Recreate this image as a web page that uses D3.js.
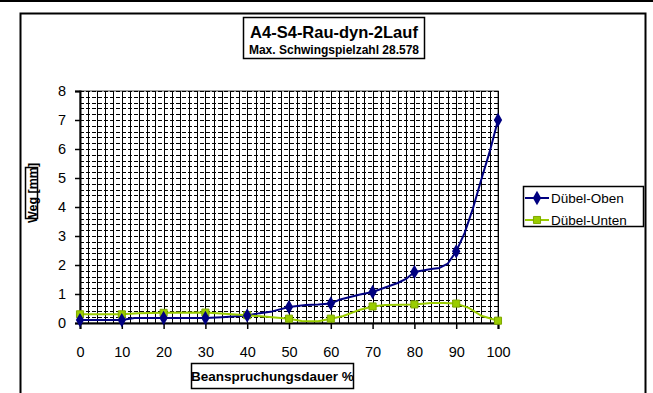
<!DOCTYPE html>
<html>
<head>
<meta charset="utf-8">
<script src="https://cdn.jsdelivr.net/npm/d3@7"></script>
<style>
  html, body { margin: 0; padding: 0; background: #fff; }
  svg { display: block; font-family: "Liberation Sans", Arial, sans-serif; }
</style>
</head>
<body>
<svg id="chart" width="653" height="393"></svg>
<script>
// ---- data ----
const title = "A4-S4-Rau-dyn-2Lauf";
const subtitle = "Max. Schwingspielzahl 28.578";
const xLabel = "Beanspruchungsdauer %";
const yLabel = "Weg [mm]";
const seriesNames = ["Dübel-Oben", "Dübel-Unten"];
const xTicks = [0, 10, 20, 30, 40, 50, 60, 70, 80, 90, 100];
const yTicks = [0, 1, 2, 3, 4, 5, 6, 7, 8];

// Dübel-Oben (curve points; markers at every 10 %)
const obenX = [0, 10, 13, 20, 30, 34, 40, 43, 46, 50, 54, 57, 60, 62, 67, 70, 76, 78, 80, 84, 86, 88, 90, 92, 94, 96, 98, 100];
const obenY = [0.1, 0.1, 0.17, 0.17, 0.17, 0.2, 0.26, 0.34, 0.4, 0.55, 0.62, 0.64, 0.67, 0.8, 0.98, 1.07, 1.38, 1.52, 1.76, 1.86, 1.9, 2.05, 2.47, 3.1, 3.95, 4.95, 5.9, 7.0];
// Dübel-Unten
const untenX = [0, 10, 14, 20, 30, 40, 44, 50, 53, 57, 60, 63, 67, 70, 73, 80, 84, 87, 90, 93, 96, 100];
const untenY = [0.3, 0.3, 0.34, 0.35, 0.36, 0.27, 0.22, 0.15, 0.07, 0.06, 0.15, 0.24, 0.46, 0.57, 0.62, 0.64, 0.69, 0.69, 0.67, 0.52, 0.25, 0.08];

const colors = ["#000080", "#99cc00"];

// ---- layout ----
const svg = d3.select("#chart");
const plot = { left: 80, right: 498, top: 91, bottom: 323 };

const x = d3.scaleLinear().domain([0, 100]).range([plot.left, plot.right]);
const y = d3.scaleLinear().domain([0, 8]).range([plot.bottom, plot.top]);

// top edge line & outer frame
svg.append("rect").attr("x", 0).attr("y", 0).attr("width", 653).attr("height", 2).attr("fill", "#000");
svg.append("rect").attr("x", 20.5).attr("y", 13.5).attr("width", 625).attr("height", 400)
  .attr("fill", "none").attr("stroke", "#000").attr("stroke-width", 2);

// title box
const tb = svg.append("g");
tb.append("rect").attr("x", 243.5).attr("y", 17.5).attr("width", 181).attr("height", 41)
  .attr("fill", "#fff").attr("stroke", "#000").attr("stroke-width", 1.5);
tb.append("text").attr("x", 334).attr("y", 38).attr("text-anchor", "middle")
  .attr("font-size", 16.5).attr("font-weight", "bold").text(title);
tb.append("text").attr("x", 334).attr("y", 54).attr("text-anchor", "middle")
  .attr("font-size", 12).attr("font-weight", "bold").text(subtitle);

// plot area
svg.append("rect").attr("x", plot.left).attr("y", plot.top)
  .attr("width", plot.right - plot.left).attr("height", plot.bottom - plot.top)
  .attr("fill", "#fff").attr("stroke", "#808080").attr("stroke-width", 1.5);

// grid
const gx = d3.range(0, 101, 2);
const gy = d3.range(0, 8.0001, 0.2);
svg.append("g").selectAll("line").data(gy).join("line")
  .attr("x1", plot.left).attr("x2", plot.right)
  .attr("y1", d => Math.round(y(d)) + 0.5).attr("y2", d => Math.round(y(d)) + 0.5)
  .attr("stroke", "#000").attr("stroke-width", 1).attr("stroke-dasharray", "4,2");
svg.append("g").selectAll("line").data(gx).join("line")
  .attr("x1", d => Math.round(x(d)) + 0.5).attr("x2", d => Math.round(x(d)) + 0.5)
  .attr("y1", plot.top).attr("y2", plot.bottom)
  .attr("stroke", "#000").attr("stroke-width", 1);

// axes
const xAxis = d3.axisBottom(x).tickValues(xTicks).tickSize(6).tickPadding(18).tickFormat(d3.format("d"));
const yAxis = d3.axisLeft(y).tickValues(yTicks).tickSize(5).tickPadding(9).tickFormat(d3.format("d"));
const gxa = svg.append("g").attr("transform", `translate(0,${plot.bottom})`).call(xAxis);
const gya = svg.append("g").attr("transform", `translate(${plot.left},0)`).call(yAxis);
[gxa, gya].forEach(g => {
  g.select(".domain").attr("stroke", "#000").attr("stroke-width", 2);
  g.selectAll(".tick line").attr("stroke", "#000").attr("stroke-width", 1.5);
  g.selectAll(".tick text").attr("fill", "#000").attr("font-size", 14.5)
    .attr("font-family", "Liberation Sans, Arial, sans-serif");
});

// series
const seriesData = [
  obenX.map((v, i) => ({ x: v, y: obenY[i] })),
  untenX.map((v, i) => ({ x: v, y: untenY[i] }))
];
const line = d3.line().x(d => x(d.x)).y(d => y(d.y));
seriesData.forEach((data, si) => {
  svg.append("path").datum(data).attr("d", line)
    .attr("fill", "none").attr("stroke", colors[si]).attr("stroke-width", 2)
    .attr("stroke-linejoin", "round");
});
const square = d3.symbol().type(d3.symbolSquare).size(50);
const diamond = d3.symbol().type(d3.symbolDiamond).size(60);
// markers (every 10 %)
svg.append("g").selectAll("path").data(seriesData[1].filter(d => d.x % 10 === 0)).join("path")
  .attr("transform", d => `translate(${x(d.x)},${y(d.y)})`)
  .attr("d", square).attr("fill", colors[1]).attr("stroke", "#7fa800").attr("stroke-width", 1);
svg.append("g").selectAll("path").data(seriesData[0].filter(d => d.x % 10 === 0)).join("path")
  .attr("transform", d => `translate(${x(d.x)},${y(d.y)})`)
  .attr("d", diamond).attr("fill", colors[0]);

// legend
const lg = svg.append("g");
lg.append("rect").attr("x", 523.5).attr("y", 186.5).attr("width", 120).attr("height", 40)
  .attr("fill", "#fff").attr("stroke", "#000").attr("stroke-width", 1.5);
seriesNames.forEach((name, i) => {
  const cy = 198 + i * 22;
  lg.append("line").attr("x1", 525).attr("x2", 549).attr("y1", cy).attr("y2", cy)
    .attr("stroke", colors[i]).attr("stroke-width", 2);
  if (i === 0) {
    lg.append("path").attr("transform", `translate(537,${cy})`)
      .attr("d", diamond).attr("fill", colors[0]);
  } else {
    lg.append("path").attr("transform", `translate(537,${cy})`)
      .attr("d", square).attr("fill", colors[1]).attr("stroke", "#7fa800");
  }
  lg.append("text").attr("x", 551).attr("y", cy + 5).attr("font-size", 13.5).text(name);
});

// x label box
const xl = svg.append("g");
xl.append("rect").attr("x", 191.5).attr("y", 363.5).attr("width", 162).attr("height", 25)
  .attr("fill", "#fff").attr("stroke", "#000").attr("stroke-width", 1.5);
xl.append("text").attr("x", 272.5).attr("y", 381).attr("text-anchor", "middle")
  .attr("font-size", 13.5).attr("font-weight", "bold").text(xLabel);

// y label box
const yl = svg.append("g").attr("transform", "translate(32,193) rotate(-90)");
yl.append("rect").attr("x", -25.5).attr("y", -6.5).attr("width", 51).attr("height", 12)
  .attr("fill", "#fff").attr("stroke", "#000").attr("stroke-width", 1.5);
yl.append("text").attr("x", 0).attr("y", 4.5).attr("text-anchor", "middle")
  .attr("font-size", 12.5).attr("font-weight", "bold").text(yLabel);
</script>
</body>
</html>
